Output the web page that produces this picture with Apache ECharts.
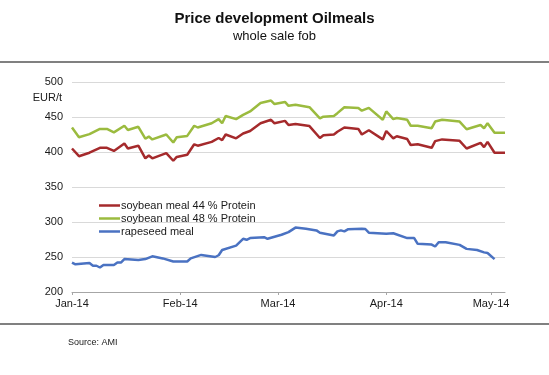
<!DOCTYPE html>
<html>
<head>
<meta charset="utf-8">
<script src="https://cdn.jsdelivr.net/npm/echarts@6/dist/echarts.min.js"></script>
<style>
  html, body { margin: 0; padding: 0; background: #fff; }
  #chart { width: 549px; height: 375px; }
</style>
</head>
<body>
<div id="chart"></div>
<script>
// soybean meal quotes (both grades share the same dates)
var soyDates = ['2014-01-01','2014-01-03','2014-01-06','2014-01-09','2014-01-11','2014-01-13','2014-01-16','2014-01-17',
  '2014-01-20','2014-01-22','2014-01-23','2014-01-24','2014-01-28','2014-01-30','2014-01-31','2014-02-03','2014-02-05',
  '2014-02-06','2014-02-10','2014-02-12','2014-02-13','2014-02-14','2014-02-17','2014-02-19','2014-02-21','2014-02-24',
  '2014-02-27','2014-02-28','2014-03-03','2014-03-04','2014-03-06','2014-03-10','2014-03-13','2014-03-14','2014-03-17',
  '2014-03-18','2014-03-20','2014-03-24','2014-03-25','2014-03-27','2014-03-31','2014-04-01','2014-04-03','2014-04-04',
  '2014-04-07','2014-04-08','2014-04-10','2014-04-14','2014-04-15','2014-04-17','2014-04-22','2014-04-24','2014-04-28',
  '2014-04-29','2014-04-30','2014-05-02','2014-05-05'];
var soy44 = [405,394,399,406,406,401.5,412,405,409,391,395,391,398.5,387.5,393,396,411,409,414.5,420,417,425,419.5,426.5,
  430,441,446,441,444.5,438.5,440,437,420,424,425,429,435,433,425,431,418,430,419.5,422.5,418.5,410,411,406,415.5,418,
  416,405,413,407,414.5,399,399];
var soy48 = [435,421,425.5,433,433,428,437.5,431.5,436,419,422,418,425,413.5,421,423,437.5,435,441,447,441,451.5,447,453,
  458,470,473.5,468.5,471.5,466,467.5,464,448,450.5,451.5,455.5,464,463,459,463,446,458,447,448.5,446,437.5,437.5,434,
  443.5,446,443.5,432.5,438.5,434,441,427.5,427.5];

var rapeDates = ['2014-01-01','2014-01-02','2014-01-06','2014-01-07','2014-01-08','2014-01-09','2014-01-10','2014-01-13',
  '2014-01-14','2014-01-15','2014-01-16','2014-01-20','2014-01-22','2014-01-24','2014-01-27','2014-01-30','2014-02-03',
  '2014-02-04','2014-02-07','2014-02-11','2014-02-12','2014-02-13','2014-02-17','2014-02-19','2014-02-20','2014-02-21',
  '2014-02-25','2014-02-26','2014-03-02','2014-03-04','2014-03-06','2014-03-09','2014-03-12','2014-03-13','2014-03-17',
  '2014-03-18','2014-03-19','2014-03-20','2014-03-21','2014-03-25','2014-03-26','2014-03-27','2014-04-01','2014-04-03',
  '2014-04-07','2014-04-09','2014-04-10','2014-04-14','2014-04-15','2014-04-16','2014-04-18','2014-04-22','2014-04-24',
  '2014-04-27','2014-04-29','2014-04-30','2014-05-02'];
var rapeseed = [242,239.5,241.3,237.5,237.5,235,238.5,238.5,242,242,247,245.7,247,251,248,243.6,243.6,248,253,250,252.5,
  260,266.3,276,274.6,277,278.3,276,281.8,285.5,292,290.5,288,284.7,280.8,286.6,288,286.6,289.5,290.5,290,284.7,283.2,
  284,277,277,268.8,267.8,265,271,271,267.3,261.6,260,256.6,255.8,247];

var monthTicks = ['2014-01-01','2014-02-01','2014-03-01','2014-04-01','2014-05-01'];
var monthNames = ['Jan','Feb','Mar','Apr','May','Jun','Jul','Aug','Sep','Oct','Nov','Dec'];

function toTime(s) {
  var p = s.split('-');
  return Date.UTC(+p[0], +p[1] - 1, +p[2]);
}
function pairs(dates, vals) {
  return dates.map(function (d, i) { return [toTime(d), vals[i]]; });
}

var myChart = echarts.init(document.getElementById('chart'));
var txt = '#1a1a1a';
var font = 'Liberation Sans, Arial, sans-serif';
var option = {
  animation: false,
  textStyle: { fontFamily: font },
  title: {
    text: 'Price development Oilmeals',
    subtext: 'whole sale fob',
    left: 'center',
    top: 6,
    itemGap: 4,
    textStyle: { fontSize: 15, fontWeight: 'bold', color: '#111' },
    subtextStyle: { fontSize: 13, color: '#111' }
  },
  legend: {
    orient: 'vertical',
    left: 94,
    top: 194,
    itemWidth: 21,
    itemHeight: 2.5,
    itemGap: 0,
    icon: 'rect',
    textStyle: { fontSize: 11, color: txt, lineHeight: 13, padding: [0, 0, 0, -4] },
    data: ['soybean meal 44 % Protein', 'soybean meal 48 % Protein', 'rapeseed meal']
  },
  grid: { left: 72, right: 44, top: 82, bottom: 83 },
  xAxis: {
    type: 'value',
    min: toTime('2014-01-01'),
    max: toTime('2014-05-05'),
    axisLine: { lineStyle: { color: '#a6a6a6', width: 1 } },
    axisTick: { show: true, length: 3, inside: false, lineStyle: { color: '#a6a6a6' },
      customValues: monthTicks.map(toTime) },
    axisLabel: {
      customValues: monthTicks.map(toTime),
      fontSize: 11, color: txt, margin: 6,
      formatter: function (v) {
        var d = new Date(v);
        return monthNames[d.getUTCMonth()] + '-' + String(d.getUTCFullYear()).slice(2);
      }
    },
    splitLine: { show: false }
  },
  yAxis: {
    type: 'value',
    min: 200, max: 500, interval: 50,
    axisLine: { show: false },
    axisTick: { show: false },
    axisLabel: { fontSize: 11, color: txt, margin: 9 },
    splitLine: { lineStyle: { color: '#d9d9d9', width: 1 } }
  },
  series: [
    { name: 'soybean meal 44 % Protein', type: 'line', showSymbol: false, color: '#a52a2c',
      lineStyle: { width: 2.5 }, data: pairs(soyDates, soy44) },
    { name: 'soybean meal 48 % Protein', type: 'line', showSymbol: false, color: '#9bbb3f',
      lineStyle: { width: 2.5 }, data: pairs(soyDates, soy48) },
    { name: 'rapeseed meal', type: 'line', showSymbol: false, color: '#4a72c2',
      lineStyle: { width: 2.5 }, data: pairs(rapeDates, rapeseed) }
  ],
  graphic: [
    { type: 'text', x: 62, y: 92, style: { text: 'EUR/t', fontSize: 11, fill: txt, textAlign: 'right', fontFamily: font } },
    { type: 'line', shape: { x1: 0, y1: 62, x2: 549, y2: 62 }, style: { stroke: '#808080', lineWidth: 2 } },
    { type: 'line', shape: { x1: 0, y1: 324, x2: 549, y2: 324 }, style: { stroke: '#808080', lineWidth: 2 } },
    { type: 'text', x: 68, y: 338, style: { text: 'Source: AMI', fontSize: 9, fill: txt, fontFamily: font } }
  ]
};
option && myChart.setOption(option);
</script>
</body>
</html>
